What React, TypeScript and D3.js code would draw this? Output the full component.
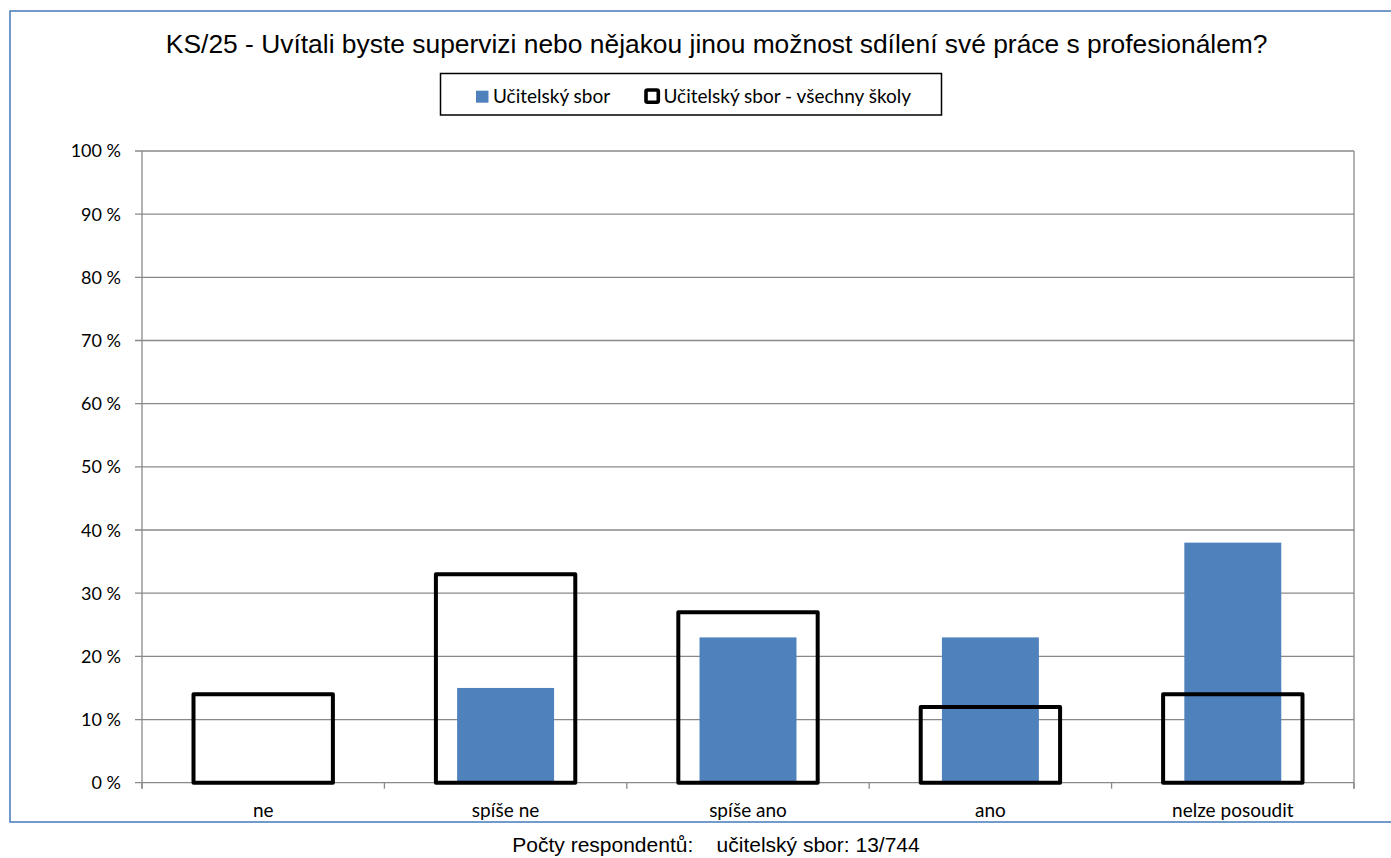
import React from "react";
import * as d3 from "d3";

const categories = ["ne", "spíše ne", "spíše ano", "ano", "nelze posoudit"];
const seriesSchool = [0, 15, 23, 23, 38];
const seriesAll = [14, 33, 27, 12, 14];
const yTicks = [0, 10, 20, 30, 40, 50, 60, 70, 80, 90, 100];
const seriesNames = ["Učitelský sbor", "Učitelský sbor - všechny školy"];
const title = "KS/25 - Uvítali byste supervizi nebo nějakou jinou možnost sdílení své práce s profesionálem?";
const footer = "Počty respondentů:    učitelský sbor: 13/744";

const W = 1391;
const H = 858;
const plot = { left: 142, right: 1354, top: 151, bottom: 782.7 };
const BLUE = "#4F81BD";
const GRID = "#898989";
const CAL = "Lato, 'Open Sans', sans-serif";
const ARIAL = "'Liberation Sans', Arial, sans-serif";

export default function App() {
  const x = d3.scaleBand<string>().domain(categories).range([plot.left, plot.right]).padding(0);
  const y = d3.scaleLinear().domain([0, 100]).range([plot.bottom, plot.top]);
  const bw = x.bandwidth();
  const blueW = bw * 0.4;
  const outW = bw * 0.575;
  const boundaries = categories.map((c) => x(c) as number).concat([plot.right]);

  return (
    <svg width={W} height={H} style={{ position: "absolute", left: 0, top: 0, background: "#fff" }}>
      <rect x={0} y={0} width={W} height={H} fill="#fff" />
      <rect x={10} y={11} width={1420} height={811} fill="none" stroke={BLUE} strokeWidth={1.6} />
      <text x={716.7} y={53.3} textAnchor="middle" fontFamily={ARIAL} fontSize={26.4} fill="#000">
        {title}
      </text>

      {/* legend */}
      <rect x={440.5} y={73.5} width={501} height={41.5} fill="#fff" stroke="#000" strokeWidth={1.5} />
      <rect x={476} y={90.7} width={12.5} height={12} fill={BLUE} />
      <text x={493} y={102.8} fontFamily={CAL} fontSize={19} fill="#000">{seriesNames[0]}</text>
      <rect x={646} y={90} width={12.3} height={12.3} rx={1.5} fill="#fff" stroke="#000" strokeWidth={3.6} />
      <text x={663.5} y={102.8} fontFamily={CAL} fontSize={19} fill="#000">{seriesNames[1]}</text>

      {/* gridlines */}
      {yTicks.map((t) => (
        <g key={t}>
          <line x1={135} x2={plot.right} y1={y(t)} y2={y(t)} stroke={GRID} strokeWidth={1.3} />
          <text x={121} y={y(t)} dy="0.36em" textAnchor="end" fontFamily={CAL} fontSize={18} fill="#000">
            {`${t} %`}
          </text>
        </g>
      ))}
      <line x1={plot.left} x2={plot.left} y1={plot.top} y2={plot.bottom + 6} stroke={GRID} strokeWidth={1.3} />
      <line x1={plot.right} x2={plot.right} y1={plot.top} y2={plot.bottom + 6} stroke={GRID} strokeWidth={1.3} />
      {boundaries.map((b, i) => (
        <line key={i} x1={b} x2={b} y1={plot.bottom} y2={plot.bottom + 6} stroke={GRID} strokeWidth={1.3} />
      ))}

      {/* blue bars */}
      {categories.map((c, i) => {
        const cx = (x(c) as number) + bw / 2;
        return (
          <rect key={c} x={cx - blueW / 2} y={y(seriesSchool[i])} width={blueW}
            height={y(0) - y(seriesSchool[i])} fill={BLUE} />
        );
      })}
      {/* outline bars */}
      {categories.map((c, i) => {
        const cx = (x(c) as number) + bw / 2;
        return (
          <rect key={c} x={cx - outW / 2} y={y(seriesAll[i])} width={outW}
            height={y(0) - y(seriesAll[i])} fill="none" stroke="#000" strokeWidth={4} strokeLinejoin="round" />
        );
      })}

      {categories.map((c) => (
        <text key={c} x={(x(c) as number) + bw / 2} y={816.7} textAnchor="middle" fontFamily={CAL} fontSize={19} fill="#000">
          {c}
        </text>
      ))}

      <text x={716} y={851.5} textAnchor="middle" fontFamily={ARIAL} fontSize={21} fill="#000" style={{ whiteSpace: "pre" }}>
        {footer}
      </text>
    </svg>
  );
}
